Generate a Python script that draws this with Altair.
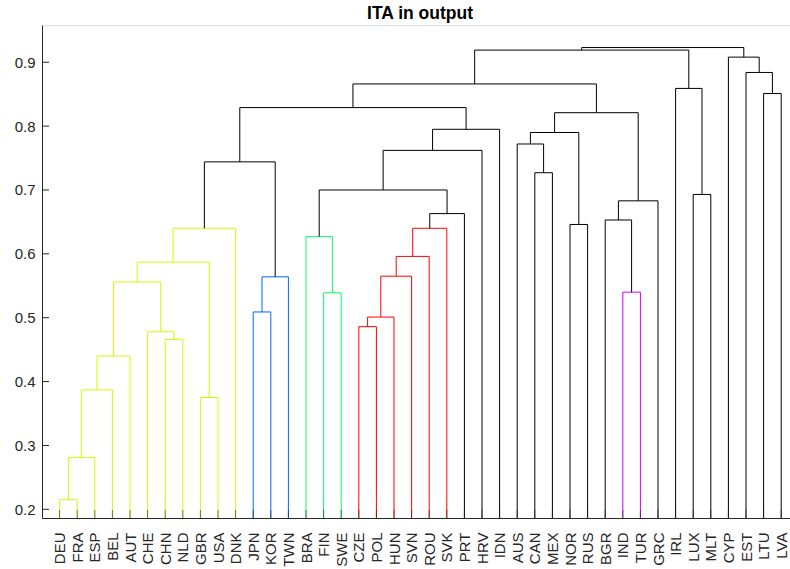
import altair as alt
import pandas as pd

# Leaf order along the x axis
leaves = ["DEU", "FRA", "ESP", "BEL", "AUT", "CHE", "CHN", "NLD", "GBR", "USA",
          "DNK", "JPN", "KOR", "TWN", "BRA", "FIN", "SWE", "CZE", "POL", "HUN",
          "SVN", "ROU", "SVK", "PRT", "HRV", "IDN", "AUS", "CAN", "MEX", "NOR",
          "RUS", "BGR", "IND", "TUR", "GRC", "IRL", "LUX", "MLT", "CYP", "EST",
          "LTU", "LVA"]

# Linkage: merge k joins left_nodes[k] and right_nodes[k] at merge_heights[k];
# merged nodes are referred to as "m1", "m2", ...
left_nodes = ["DEU", "m1", "m2", "m3", "CHN", "CHE", "m4", "GBR", "m7", "m9",
              "JPN", "m11", "m10", "FIN", "BRA", "CZE", "m16", "m17", "m18", "m19",
              "m20", "m15", "m22", "m23", "m13", "CAN", "AUS", "NOR", "m27", "IND",
              "BGR", "m31", "m29", "m25", "LUX", "IRL", "m34", "LTU", "EST", "CYP",
              "m37"]
right_nodes = ["FRA", "ESP", "BEL", "AUT", "NLD", "m5", "m6", "USA", "m8", "DNK",
               "KOR", "TWN", "m12", "SWE", "m14", "POL", "HUN", "SVN", "ROU", "SVK",
               "PRT", "m21", "HRV", "IDN", "m24", "MEX", "m26", "RUS", "m28", "TUR",
               "m30", "GRC", "m32", "m33", "MLT", "m35", "m36", "LVA", "m38", "m39",
               "m40"]
merge_heights = [0.215, 0.281, 0.387, 0.440, 0.466, 0.478, 0.556, 0.375, 0.587, 0.640,
                 0.509, 0.564, 0.744, 0.539, 0.627, 0.486, 0.501, 0.565, 0.596, 0.640,
                 0.663, 0.700, 0.762, 0.795, 0.829, 0.727, 0.772, 0.646, 0.790, 0.540,
                 0.653, 0.683, 0.821, 0.866, 0.693, 0.859, 0.919, 0.851, 0.884, 0.908,
                 0.923]
merge_groups = ["c1", "c1", "c1", "c1", "c1", "c1", "c1", "c1", "c1", "c1",
                "c2", "c2", "top", "c3", "c3", "c4", "c4", "c4", "c4", "c4",
                "top", "top", "top", "top", "top", "top", "top", "top", "top", "c5",
                "top", "top", "top", "top", "top", "top", "top", "top", "top", "top",
                "top"]

group_names = ["c1", "c2", "c3", "c4", "c5", "top"]
group_colors = ["#ccff00", "#0066ff", "#00ff66", "#ff0000", "#cc00ff", "#000000"]

y_ticks = [0.2, 0.3, 0.4, 0.5, 0.6, 0.7, 0.8, 0.9]
y_min, y_max = 0.1864, 0.9583

# Build the U-shaped links of the dendrogram
node_x = {name: i + 1 for i, name in enumerate(leaves)}
node_h = {name: 0.0 for name in leaves}
segs = []
for k, (a, b, h, g) in enumerate(zip(left_nodes, right_nodes, merge_heights, merge_groups)):
    xa, xb = node_x[a], node_x[b]
    segs.append(dict(x=xa, x2=xa, y=node_h[a], y2=h, grp=g))
    segs.append(dict(x=xa, x2=xb, y=h, y2=h, grp=g))
    segs.append(dict(x=xb, x2=xb, y=node_h[b], y2=h, grp=g))
    mid = f"m{k + 1}"
    node_x[mid] = (xa + xb) / 2
    node_h[mid] = h
links = pd.DataFrame(segs)

leaf_df = pd.DataFrame({"pos": list(range(1, len(leaves) + 1)), "name": leaves})
ytick_df = pd.DataFrame({"v": y_ticks})

W, H = 748, 493
axis_color = "#262626"
font = "Liberation Sans"

label_array = "[''," + ",".join(f"'{n}'" for n in leaves) + "]"

x_scale = alt.Scale(domain=[0, 42.5], nice=False, zero=False)
y_scale = alt.Scale(domain=[y_min, y_max], nice=False, zero=False)

x_axis = alt.Axis(title=None, values=list(range(1, len(leaves) + 1)),
                  labelExpr=f"{label_array}[datum.value]",
                  labelAngle=-90, labelAlign="right", labelBaseline="middle",
                  labelFont=font, labelFontSize=15, labelColor=axis_color,
                  labelPadding=14, ticks=False, grid=False,
                  domainColor=axis_color, domainWidth=1,
                  labelOverlap=False, labelFlush=False, labelBound=False)
y_axis = alt.Axis(title=None, values=y_ticks, format=".1f",
                  labelFont=font, labelFontSize=15, labelColor=axis_color,
                  labelPadding=7, ticks=False, grid=False,
                  domainColor=axis_color, domainWidth=1,
                  labelOverlap=False, labelFlush=False)

dendro = alt.Chart(links).mark_rule(strokeWidth=1, clip=True).encode(
    x=alt.X("x:Q", scale=x_scale, axis=x_axis),
    x2="x2:Q",
    y=alt.Y("y:Q", scale=y_scale, axis=y_axis),
    y2="y2:Q",
    color=alt.Color("grp:N", scale=alt.Scale(domain=group_names, range=group_colors),
                    legend=None),
)

# Inward-pointing tick marks on both axes
x_ticks = alt.Chart(leaf_df).mark_rule(color=axis_color, strokeWidth=1, opacity=0.6).encode(
    x=alt.X("pos:Q", scale=x_scale, axis=x_axis),
    y=alt.value(H),
    y2=alt.value(H - 8),
)
y_tick_marks = alt.Chart(ytick_df).mark_rule(color=axis_color, strokeWidth=1).encode(
    y=alt.Y("v:Q", scale=y_scale, axis=y_axis),
    x=alt.value(0),
    x2=alt.value(7),
)

chart = alt.layer(dendro, x_ticks, y_tick_marks).properties(
    width=W,
    height=H,
    title=alt.TitleParams("ITA in output", font=font, fontSize=17.5, fontWeight="bold",
                          color="black", anchor="middle", frame="group", dx=4, dy=17,
                          baseline="alphabetic", offset=6),
    autosize=alt.AutoSizeParams(type="none"),
    padding={"left": 42, "top": 25, "right": 0, "bottom": 51},
).configure_view(stroke=None).configure(background="white")

chart.save("out.html", embed_options={"renderer": "svg", "actions": False})
